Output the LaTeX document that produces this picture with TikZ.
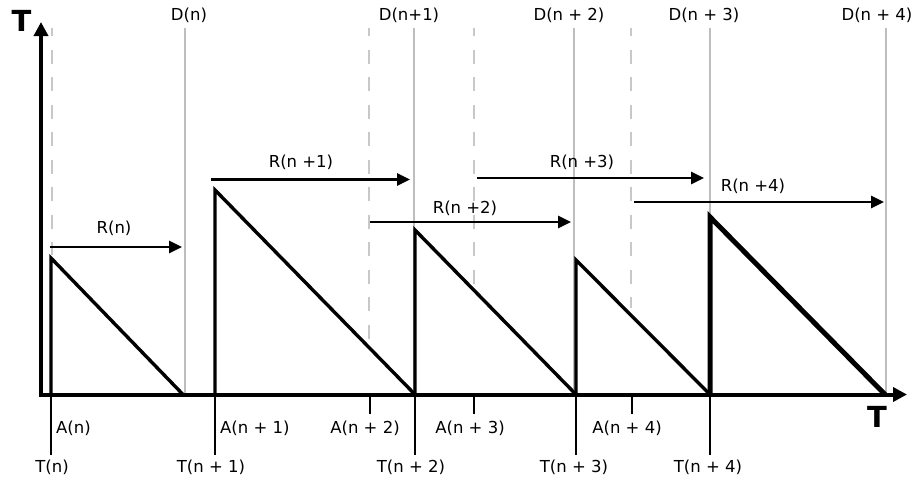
\documentclass[tikz,border=0pt]{standalone}
\usepackage{fontspec}
\setmainfont{DejaVu Sans}
\usetikzlibrary{arrows.meta}
\definecolor{inkgrey}{HTML}{BEBEBE}
\definecolor{inkdash}{HTML}{C8C8C8}
\tikzset{
  axisline/.style={line width=4pt, -{Triangle[length=14pt, width=14pt]}},
  rarrow/.style={line width=2.8pt, -{Triangle[length=13pt, width=12pt]}},
  saw/.style={line width=3.4pt, line join=miter},
  tick/.style={line width=2.2pt},
  dline/.style={inkgrey, line width=2.2pt},
  aline/.style={inkdash, line width=2.7pt, dash pattern=on 14pt off 13.5pt, dash phase=6pt},
  lab/.style={inner sep=0pt, font=\fontsize{16.5}{19}\selectfont},
  biglab/.style={inner sep=0pt, font=\fontsize{29}{32}\selectfont\bfseries}
}

\begin{document}
\begin{tikzpicture}[x=1pt, y=-1pt]
  \useasboundingbox (0,0) rectangle (916,480);
  % deadline lines (solid) and arrival lines (dashed)
  \foreach \x/\lx/\lab [count=\i from 0] in {185/189/D(n), 414/409/D(n+1),
                                             574/569/D(n + 2), 710/704/D(n + 3),
                                             886/877/D(n + 4)}{%
    \node[lab] (ld\i) at (\lx,15) {\lab};
    \coordinate (dtop\i) at (\x,28);
    \coordinate (dbot\i) at (\x,394);
    \draw[dline] (dtop\i) -- (dbot\i);}
  \foreach \x/\y [count=\i from 0] in {52/255, 369/340, 474/285, 631/308}{%
    \coordinate (atop\i) at (\x,28);
    \coordinate (abot\i) at (\x,\y);
    \draw[aline] (atop\i) -- (abot\i);}
  % axes
  \coordinate (origin) at (41,394.5);
  \coordinate (ytip) at (41,22);
  \coordinate (xtip) at (907,394.5);
  \draw[axisline] (41,396) -- (ytip);
  \draw[axisline] (39,394.5) -- (xtip);
  \node[biglab] (ty) at (21.5,21) {T};
  \node[biglab] (tx) at (877,417) {T};
  % sawtooth
  \foreach \x/\py/\dx [count=\i from 0] in {51/258/183, 215/190/415,
                                          415/230/576, 576/260/710}{%
    \coordinate (t\i) at (\x,394.5);
    \coordinate (p\i) at (\x,\py);
    \coordinate (e\i) at (\dx,394.5);
    \draw[saw] (t\i) -- (p\i) -- (e\i);}
  \coordinate (t4) at (710,394.5);
  \coordinate (p4) at (710,217);
  \coordinate (e4) at (885,394.5);
  \draw[saw, line width=5pt] (t4) -- (p4) -- (e4);
  % T ticks and labels
  \foreach \x [count=\i from 0] in {51, 215, 415, 576, 710}{%
    \coordinate (tt\i) at (\x,455);
    \draw[tick] (t\i) -- (tt\i);}
  \node[lab] (lt0) at (52,467) {T(n)};
  \node[lab] (lt1) at (211,467) {T(n + 1)};
  \node[lab] (lt2) at (411,467) {T(n + 2)};
  \node[lab] (lt3) at (574,467) {T(n + 3)};
  \node[lab] (lt4) at (708,467) {T(n + 4)};
  % A ticks and labels
  \foreach \x [count=\i from 2] in {370, 474, 632}{%
    \coordinate (ta\i) at (\x,394.5);
    \coordinate (tb\i) at (\x,414);
    \draw[tick] (ta\i) -- (tb\i);}
  \node[lab, anchor=west] (la0) at (56,428) {A(n)};
  \node[lab, anchor=west] (la1) at (220,428) {A(n + 1)};
  \node[lab] (la2) at (365,428) {A(n + 2)};
  \node[lab] (la3) at (470,428) {A(n + 3)};
  \node[lab] (la4) at (627,428) {A(n + 4)};
  % response arrows
  \foreach \xa/\xb/\y/\lx/\ly/\lab [count=\i from 0] in
    {50/182/247/114/228/R(n), 211/410/179.5/301/162/R(n +1),
     370/571/222/465/208/R(n +2), 477/704/178/582/162/R(n +3),
     634/884/202/753/186/R(n +4)}{%
    \coordinate (ra\i) at (\xa,\y);
    \coordinate (rb\i) at (\xb,\y);
    \draw[rarrow] (ra\i) -- (rb\i);
    \node[lab] (lr\i) at (\lx,\ly) {\lab};}
\end{tikzpicture}
\end{document}
